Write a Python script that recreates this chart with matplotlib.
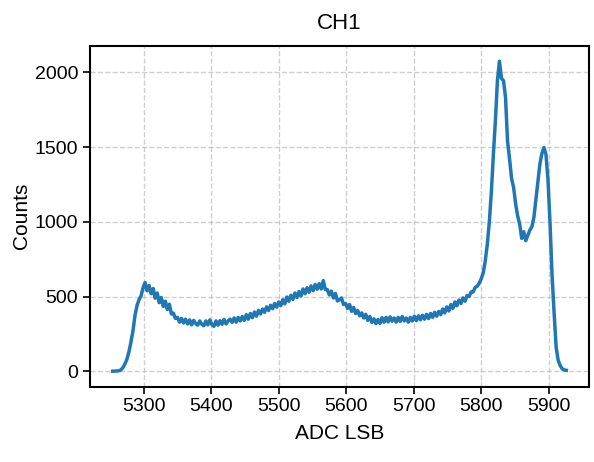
import numpy as np
import matplotlib
matplotlib.use("Agg")
import matplotlib.pyplot as plt

plt.rcParams['font.family'] = ['Liberation Sans', 'DejaVu Sans']

# histogram of channel 1, one value every 3 ADC codes starting at 5254
adc_start = 5254
adc_step = 3
counts = [
    2, 3, 3, 5, 10, 25, 49, 80, 130, 195,              # 5254
    270, 372, 440, 480, 505, 560, 595, 540, 575, 520,  # 5284
    555, 490, 525, 460, 495, 435, 470, 415, 450, 385,  # 5314
    390, 355, 362, 330, 355, 325, 350, 318, 345, 312,  # 5344
    342, 320, 310, 338, 316, 306, 338, 312, 345, 314,  # 5374
    302, 338, 310, 340, 316, 348, 318, 338, 350, 328,  # 5404
    358, 330, 362, 338, 368, 342, 380, 350, 388, 360,  # 5434
    398, 370, 408, 385, 418, 396, 432, 408, 443, 420,  # 5464
    455, 430, 465, 440, 480, 452, 498, 470, 510, 482,  # 5494
    525, 495, 535, 505, 552, 520, 560, 530, 572, 540,  # 5524
    582, 550, 588, 552, 608, 548, 548, 512, 538, 492,  # 5554
    522, 472, 480, 492, 448, 455, 422, 448, 402, 428,  # 5584
    388, 408, 372, 392, 358, 382, 342, 368, 328, 352,  # 5614
    320, 348, 322, 360, 330, 362, 332, 365, 336, 358,  # 5644
    330, 362, 335, 368, 338, 358, 330, 362, 338, 370,  # 5674
    340, 372, 346, 376, 350, 382, 354, 388, 362, 396,  # 5704
    370, 402, 380, 418, 392, 432, 405, 448, 422, 465,  # 5734
    440, 478, 455, 492, 470, 508, 502, 532, 532, 562,  # 5764
    570, 590, 620, 660, 740, 850, 1000, 1200, 1450, 1677,  # 5794
    1944, 2075, 1960, 1945, 1833, 1540, 1420, 1290, 1230, 1120,  # 5824
    1040, 985, 890, 935, 875, 910, 945, 968, 1030, 1150,  # 5854
    1276, 1390, 1460, 1498, 1450, 1276, 985, 640, 390, 161,  # 5884
    75, 40, 18, 10, 8,  # 5914
]
adc = adc_start + adc_step * np.arange(len(counts))

fig = plt.figure(figsize=(5.94, 4.62), dpi=100)
ax = fig.add_axes([0.1515, 0.163, 0.84, 0.738])

ax.plot(adc, counts, color='#1f77b4', lw=2.5)
ax.set_title('CH1', fontsize=16, pad=12)
ax.set_xlabel('ADC LSB', fontsize=15, labelpad=6)
ax.set_ylabel('Counts', fontsize=15, labelpad=3)
ax.tick_params(labelsize=14, width=1.2, length=5)
ax.set_xticks([5300, 5400, 5500, 5600, 5700, 5800, 5900])
ax.set_yticks([0, 500, 1000, 1500, 2000])
ax.grid(True, linestyle='--', color='#b0b0b0', alpha=0.6, lw=1)
for s in ax.spines.values():
    s.set_linewidth(1.5)

fig.savefig('out.png', dpi=100)
